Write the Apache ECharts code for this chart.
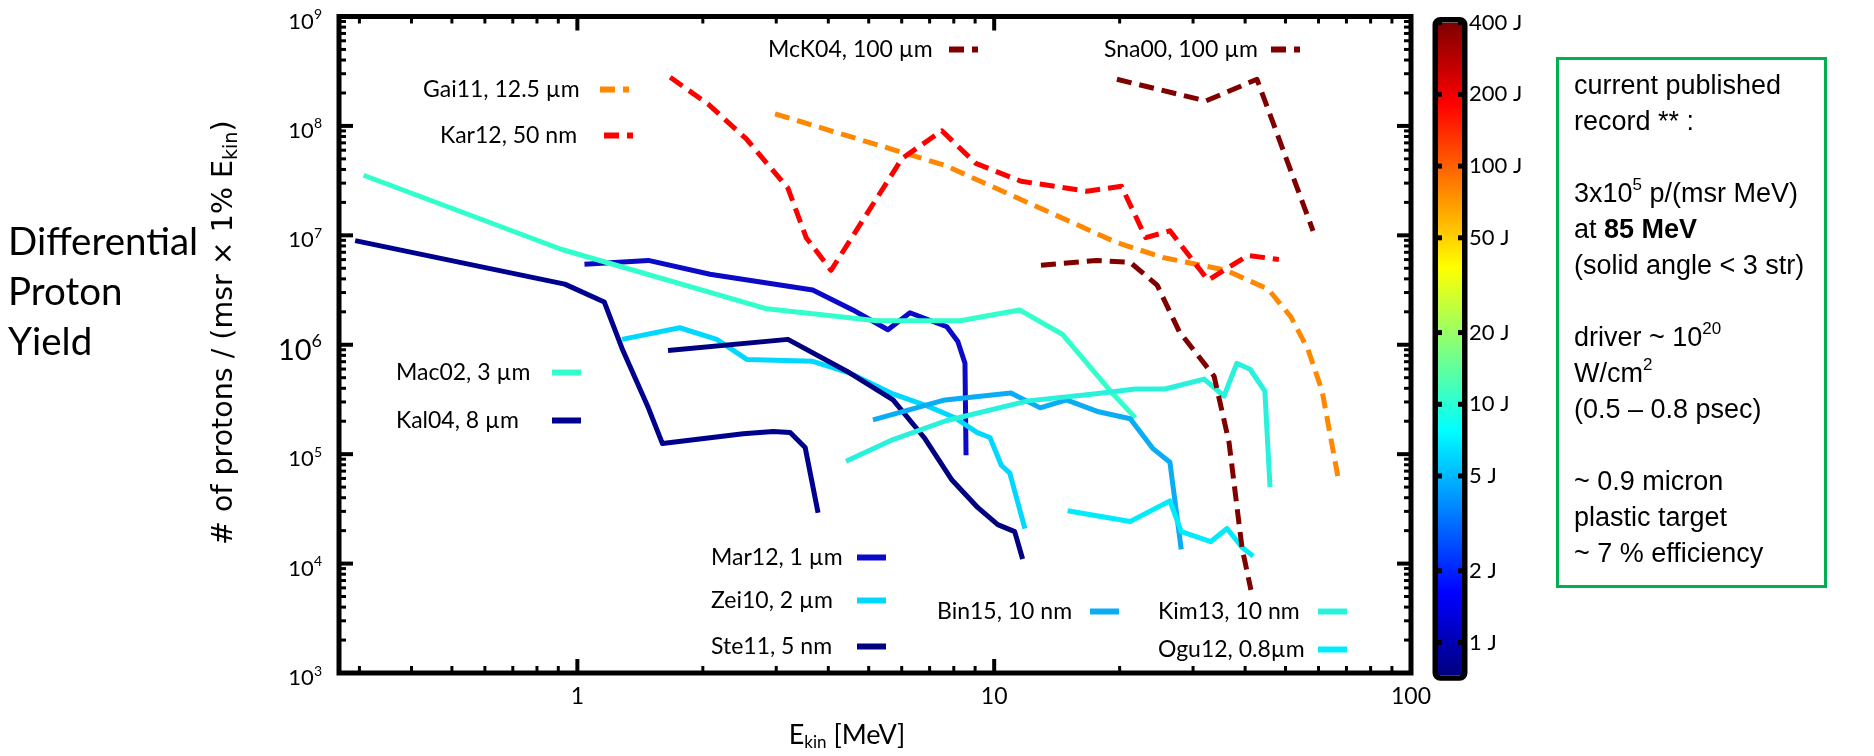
<!DOCTYPE html>
<html><head><meta charset="utf-8">
<script src="https://cdn.jsdelivr.net/npm/echarts@6/dist/echarts.min.js"></script>
<style>html,body{margin:0;padding:0;background:#fff}#c{width:1874px;height:756px}</style>
</head><body><div id="c"></div>
<script>
// ---------- data: [E_kin (MeV), yield] ----------
const mac02 = [[0.307,3.54e7],[0.918,7.42e6],[2.85,2.13e6],[5.23,1.66e6],[8.28,1.66e6],[11.5,2.08e6],[14.6,1.24e6],[19.0,3.78e5],[21.8,2.15e5]];
const kal04 = [[0.293,8.95e6],[0.933,3.58e6],[1.16,2.46e6],[1.28,9.25e5],[1.48,2.65e5],[1.60,1.25e5],[2.50,1.54e5],[2.95,1.61e5],[3.24,1.58e5],[3.52,1.15e5],[3.78,2.92e4]];
const mar12 = [[1.04,5.43e6],[1.48,5.90e6],[2.08,4.41e6],[3.67,3.16e6],[4.58,2.08e6],[5.56,1.37e6],[6.28,1.96e6],[7.70,1.46e6],[8.18,1.07e6],[8.51,6.77e5],[8.56,9.76e4]];
const zei10 = [[1.28,1.12e6],[1.76,1.43e6],[2.16,1.12e6],[2.55,7.35e5],[3.67,7.05e5],[4.51,5.50e5],[5.72,3.55e5],[6.90,2.76e5],[8.05,2.15e5],[9.09,1.58e5],[9.77,1.42e5],[10.4,7.92e4],[10.9,6.71e4],[11.85,2.09e4]];
const ste11 = [[1.65,8.87e5],[3.20,1.12e6],[4.43,5.73e5],[5.72,3.13e5],[6.82,1.39e5],[7.92,5.80e4],[9.14,3.24e4],[10.2,2.27e4],[11.2,1.96e4],[11.7,1.10e4]];
const bin15 = [[5.12,2.06e5],[7.62,3.13e5],[10.97,3.62e5],[12.9,2.65e5],[14.9,3.13e5],[17.8,2.44e5],[21.2,2.11e5],[24.0,1.13e5],[26.4,8.43e4],[28.1,1.35e4]];
const kim13 = [[4.41,8.61e4],[5.72,1.36e5],[7.66,2.02e5],[12.05,3.07e5],[17.35,3.55e5],[21.8,3.94e5],[25.7,3.94e5],[31.9,4.85e5],[35.6,3.40e5],[38.2,6.77e5],[41.1,5.97e5],[44.6,3.78e5],[45.9,5.01e4]];
const ogu12 = [[15.0,3.04e4],[21.2,2.42e4],[26.4,3.74e4],[28.1,1.96e4],[33.1,1.59e4],[36.2,2.09e4],[39.3,1.41e4],[41.8,1.17e4]];
const gai11 = [[2.98,1.29e8],[7.62,4.36e7],[19.7,8.58e6],[25.4,6.28e6],[36.0,4.79e6],[45.4,3.23e6],[51.5,1.80e6],[56.6,9.06e5],[61.2,3.78e5],[67.2,5.45e4]];
const kar12 = [[1.67,2.78e8],[2.06,1.58e8],[2.54,7.64e7],[3.20,2.70e7],[3.54,9.52e6],[4.06,4.79e6],[6.01,5.04e7],[7.49,9.03e7],[9.04,4.54e7],[11.6,3.12e7],[16.7,2.53e7],[20.2,2.81e7],[23.1,9.52e6],[26.4,1.10e7],[32.6,3.89e6],[40.6,6.55e6],[48.2,6.02e6]];
const mck04 = [[12.95,5.32e6],[17.55,5.90e6],[21.2,5.66e6],[24.6,3.51e6],[27.8,1.32e6],[33.7,5.16e5],[36.6,1.28e5],[39.3,1.41e4],[41.3,5.75e3]];
const sna00 = [[19.7,2.67e8],[32.2,1.69e8],[42.7,2.67e8],[58.2,1.10e7]];

// axis ranges and tick labels
const X_MIN = 0.268, X_MAX = 100, Y_MIN = 1e3, Y_MAX = 1e9;
const xMajorTicks = [1, 10, 100];
const xMinorTicks = [0.3,0.4,0.5,0.6,0.7,0.8,0.9, 2,3,4,5,6,7,8,9, 20,30,40,50,60,70,80,90];
const yMajorTicks = [1e3,1e4,1e5,1e6,1e7,1e8,1e9];
const yMinorMantissas = [2,3,4,5,6,7,8,9];
const yDecades = [1e3,1e4,1e5,1e6,1e7,1e8];
const colorbarTicks = [400,200,100,50,20,10,5,2,1];
const CB_MIN = 0.73, CB_MAX = 400;

// series styling
const seriesDefs = [
  {name:'Kal04, 8 µm', data:kal04, color:'#00008f', dash:false},
  {name:'Mar12, 1 µm', data:mar12, color:'#0a0ac8', dash:false},
  {name:'Zei10, 2 µm', data:zei10, color:'#00d8ff', dash:false},
  {name:'Ste11, 5 nm', data:ste11, color:'#000080', dash:false},
  {name:'Mac02, 3 µm', data:mac02, color:'#33ffcc', dash:false},
  {name:'Bin15, 10 nm', data:bin15, color:'#0aacf4', dash:false},
  {name:'Kim13, 10 nm', data:kim13, color:'#28f2dc', dash:false},
  {name:'Ogu12, 0.8µm', data:ogu12, color:'#00ecfa', dash:false},
  {name:'Gai11, 12.5 µm', data:gai11, color:'#ff8800', dash:true},
  {name:'Kar12, 50 nm', data:kar12, color:'#ff0000', dash:true},
  {name:'McK04, 100 µm', data:mck04, color:'#800000', dash:true},
  {name:'Sna00, 100 µm', data:sna00, color:'#800000', dash:true}
];

// legend layout: [name, textLeft, centerY, textWidth]
const legendLayout = [
  ['Gai11, 12.5 µm', 423, 92, 172],
  ['Kar12, 50 nm', 440, 138, 159],
  ['Mac02, 3 µm', 396, 375, 151],
  ['Kal04, 8 µm', 396, 423, 151],
  ['McK04, 100 µm', 768, 52, 176],
  ['Sna00, 100 µm', 1104, 52, 162],
  ['Mar12, 1 µm', 711, 560, 141],
  ['Zei10, 2 µm', 711, 603, 141],
  ['Ste11, 5 nm', 711, 649, 141],
  ['Bin15, 10 nm', 937, 614, 148],
  ['Kim13, 10 nm', 1158, 614, 155],
  ['Ogu12, 0.8µm', 1158, 652, 155]
];

const tickData = [];
xMajorTicks.forEach(v => tickData.push([v, Y_MIN, 0]));
xMinorTicks.forEach(v => tickData.push([v, Y_MIN, 1]));
yMajorTicks.forEach(v => tickData.push([X_MIN, v, 2]));
yDecades.forEach(d => yMinorMantissas.forEach(m => tickData.push([X_MIN, m*d, 3])));

const chart = echarts.init(document.getElementById('c'), null, {renderer:'canvas'});

const series = seriesDefs.map((s, i) => ({
  type:'line', name:s.name, data:s.data, xAxisIndex:0, yAxisIndex:0,
  symbol:'none', showSymbol:false, smooth:false, clip:true, silent:true, z:2+i,
  itemStyle:{color:s.color},
  lineStyle:{color:s.color, width:5, type: s.dash ? [15,8] : 'solid', join:'round'}
}));

series.push({
  type:'custom', name:'ticks', xAxisIndex:0, yAxisIndex:0, z:50, silent:true, clip:false,
  data: tickData,
  renderItem: function(params, api){
    const kind = api.value(2);
    const p = api.coord([api.value(0), api.value(1)]);
    const cs = params.coordSys;
    const major = (kind === 0 || kind === 2);
    const len = major ? 14 : 7, w = major ? 4 : 3;
    const st = {stroke:'#000', lineWidth:w};
    if (kind < 2) {
      const b = cs.y + cs.height, t = cs.y;
      return {type:'group', children:[
        {type:'line', shape:{x1:p[0], y1:b, x2:p[0], y2:b-len}, style:st},
        {type:'line', shape:{x1:p[0], y1:t, x2:p[0], y2:t+len}, style:st}
      ]};
    }
    const l = cs.x, r = cs.x + cs.width;
    return {type:'group', children:[
      {type:'line', shape:{x1:l, y1:p[1], x2:l+len, y2:p[1]}, style:st},
      {type:'line', shape:{x1:r, y1:p[1], x2:r-len, y2:p[1]}, style:st}
    ]};
  }
});

// colour bar body (jet colormap over log energy)
series.push({
  type:'custom', name:'colorbar', xAxisIndex:1, yAxisIndex:1, z:5, silent:true, clip:false,
  data:[[0.5, 20]],
  renderItem: function(params, api){
    const cs = params.coordSys;
    return {type:'group', children:[
      {type:'rect', shape:{x:cs.x, y:cs.y, width:cs.width, height:cs.height},
       style:{fill:{type:'linear', x:0, y:1, x2:0, y2:0, colorStops:[
         {offset:0, color:'#00007f'},{offset:0.125, color:'#0000ff'},{offset:0.375, color:'#00ffff'},
         {offset:0.625, color:'#ffff00'},{offset:0.875, color:'#ff0000'},{offset:1, color:'#7f0000'}]}}},
      {type:'rect', shape:{x:cs.x-2.75, y:cs.y-3, width:cs.width+5.5, height:cs.height+6, r:5},
       style:{fill:'none', stroke:'#000', lineWidth:5.5}}
    ]};
  }
});
series.push({
  type:'custom', name:'colorbarTicks', xAxisIndex:1, yAxisIndex:1, z:6, silent:true, clip:false,
  data: colorbarTicks.map(v => [0.5, v]),
  renderItem: function(params, api){
    const cs = params.coordSys;
    const v = api.value(1);
    const p = api.coord([0.5, v]);
    return {type:'group', children:[
      {type:'rect', shape:{x:cs.x, y:p[1]-2.5, width:4, height:5}, style:{fill:'#000'}},
      {type:'rect', shape:{x:cs.x+cs.width-4, y:p[1]-2.5, width:4, height:5}, style:{fill:'#000'}},
      {type:'text', x:cs.x+cs.width+7, y:p[1], style:{text: v + ' J', fill:'#000', fontSize:22, fontFamily:'Lato', align:'left', verticalAlign:'middle'}}
    ]};
  }
});

const legends = legendLayout.map(([name, left, cy, w]) => ({
  data:[name], left:left, top:cy-14, padding:0, align:'right', orient:'horizontal',
  itemWidth:29, itemHeight:14, itemGap:0, selectedMode:false,
  itemStyle:{opacity:0, borderWidth:0},
  lineStyle:{width:6},
  formatter:'{t|{name}}',
  textStyle:{color:'#000', fontFamily:'Lato', fontSize:23,
    rich:{t:{width:w, align:'left', fontFamily:'Lato', fontSize:23, lineHeight:28, color:'#000'}}}
}));

const option = {
  animation:false,
  backgroundColor:'#fff',
  textStyle:{fontFamily:'Lato'},
  grid:[
    {left:339, right:463, top:16.5, bottom:76, show:true, borderColor:'#000', borderWidth:5, backgroundColor:'transparent'},
    {left:1438, width:24, top:22.7, bottom:81, show:false}
  ],
  xAxis:[
    {type:'log', logBase:10, min:X_MIN, max:X_MAX, gridIndex:0,
     axisLine:{show:false}, axisTick:{show:false}, splitLine:{show:false},
     axisLabel:{color:'#000', fontSize:23, fontFamily:'Lato', margin:12, showMinLabel:false,
       formatter: v => { const l = Math.log10(v); return Math.abs(l - Math.round(l)) < 1e-6 ? String(Math.round(v)) : ''; }},
     name:'{n|E}{s|kin}{n| [MeV]}', nameLocation:'middle', nameGap:46,
     nameTextStyle:{padding:[0,56,0,0], rich:{
       n:{fontSize:27, fontFamily:'Lato', color:'#000', lineHeight:32},
       s:{fontSize:17, fontFamily:'Lato', color:'#000', verticalAlign:'bottom', lineHeight:22}}}},
    {type:'value', min:0, max:1, gridIndex:1, show:false}
  ],
  yAxis:[
    {type:'log', logBase:10, min:Y_MIN, max:Y_MAX, gridIndex:0,
     axisLine:{show:false}, axisTick:{show:false}, splitLine:{show:false},
     axisLabel:{margin:17,
       formatter: v => { const e = Math.round(Math.log10(v)); return e === 6 ? '{B|10}{S|6}' : '{b|10}{s|' + e + '}'; },
       rich:{
         b:{fontSize:22, fontFamily:'Lato', color:'#000', lineHeight:22, padding:[10,0,0,0]},
         s:{fontSize:14, fontFamily:'Lato', color:'#000', verticalAlign:'top', lineHeight:16, padding:[2,0,0,0]},
         B:{fontSize:29, fontFamily:'Lato', color:'#000', lineHeight:29, padding:[12,0,0,0]},
         S:{fontSize:18, fontFamily:'Lato', color:'#000', verticalAlign:'top', lineHeight:20, padding:[2,0,0,0]}
       }},
     name:'{a|# of protons / (msr × 1% E}{b|kin}{a|)}', nameLocation:'middle', nameRotate:90, nameGap:97,
     nameTextStyle:{padding:[0,0,0,24], rich:{
       a:{fontSize:28.5, fontFamily:'DejaVu Sans', color:'#000', lineHeight:34},
       b:{fontSize:19, fontFamily:'DejaVu Sans', color:'#000', verticalAlign:'bottom', lineHeight:19}}}},
    {type:'log', logBase:10, min:CB_MIN, max:CB_MAX, gridIndex:1, show:false}
  ],
  legend: legends,
  series: series,
  graphic:[
    {type:'text', left:8, top:218, style:{text:'Differential\nProton\nYield', fontSize:38.5, fontFamily:'Lato', lineHeight:50, fill:'#000'}},
    {type:'rect', left:1556, top:57, shape:{width:268, height:528}, style:{fill:'#fff', stroke:'#00b050', lineWidth:3}},
    {type:'text', left:1574, top:69, style:{
      text:'current published\nrecord ** :\n \n3x10{s|5} p/(msr MeV)\nat {b|85 MeV}\n(solid angle < 3 str)\n \ndriver ~ 10{s|20}\nW/cm{s|2}\n(0.5 – 0.8 psec)\n \n~ 0.9 micron\nplastic target\n~ 7 % efficiency',
      fontSize:27, fontFamily:'Liberation Sans', lineHeight:36, fill:'#000',
      rich:{
        s:{fontSize:17, fontFamily:'Liberation Sans', verticalAlign:'top', lineHeight:24, fill:'#000'},
        b:{fontSize:27, fontFamily:'Liberation Sans', fontWeight:'bold', lineHeight:36, fill:'#000'}
      }}}
  ]
};
chart.setOption(option);
</script></body></html>
